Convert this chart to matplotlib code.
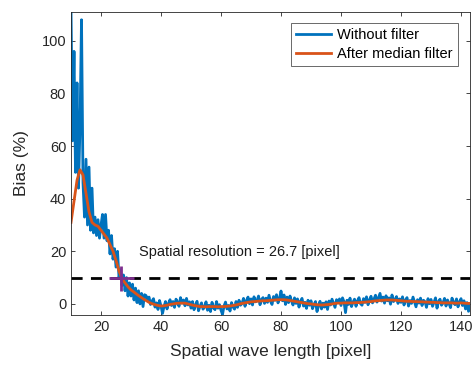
"""Bias vs spatial wave length, raw and median-filtered."""

import matplotlib
matplotlib.use("Agg")
import matplotlib.pyplot as plt
import numpy as np

plt.rcParams["font.family"] = ["Liberation Sans", "DejaVu Sans"]

# raw bias, wave length 10..143 step 0.5
wave_raw = np.arange(10.0, 143.01, 0.5)
bias_raw = [
    112, 62, 96, 50, 84, 44, 68, 108, 46, 33,
    55, 30, 52, 28, 44, 27, 33, 26, 32, 25,
    30, 34, 25, 34, 24, 28, 19, 26, 17, 21,
    14, 20, 10, 13, 7, 11, 5, 10, 3, 8,
    3, 7.5, 1.5, 6, 0.5, 5, 0, 4, -1, 3.5,
    3.2, 1.4, 2.6, -0.2, 1.1, 2.0, -1.2, 0.4, -2.1, 1.3,
    -0.8, -3.6, -1.0, 0.9, -1.9, 0.2, 1.6, -0.6, 0.9, -1.3,
    1.8, 0.7, -0.9, 2.4, 0.3, 1.5, -0.7, 2.1, -0.4, 0.8,
    -1.6, 0.9, -2.2, -0.4, 1.0, -2.6, -0.9, 0.4, -2.0, -1.2,
    0.8, -2.4, -0.5, -2.9, 0.6, -1.4, -2.2, 0.9, -1.6, -0.3,
    -2.4, -4.0, -0.8, 0.7, -1.9, -0.6, -2.7, 0.5, -1.1, -2.0,
    0.9, -1.3, 1.4, -0.5, 0.2, 2.1, -0.9, 1.3, 2.6, 0.1,
    1.9, -0.4, 2.7, 0.8, 1.2, 3.0, -0.3, 1.7, 2.4, 0.2,
    2.2, 0.6, 3.3, 1.0, -0.2, 2.8, 1.4, 3.5, 0.4, 2.1,
    4.9, 1.2, 3.4, -0.2, 2.6, 0.5, 3.0, 1.1, -0.4, 2.3,
    0.2, 1.9, -1.2, 1.0, 2.1, -0.8, 0.6, -1.7, 1.4, -0.5,
    1.2, -1.8, -0.2, 0.9, -2.9, -0.7, 1.0, -1.9, 0.3, -1.2,
    0.8, -2.1, 1.1, -0.4, 1.8, 0.2, -1.3, 1.6, 0.5, 1.9,
    -0.6, 2.3, 0.8, -3.3, 1.4, -0.2, 2.2, -1.0, 0.7, 1.8,
    -0.9, 1.2, 2.4, 0.1, -0.5, 2.0, 0.6, 2.7, -0.3, 1.5,
    2.9, 0.4, 1.8, 3.3, 0.7, 2.4, 4.0, 1.1, 2.6, 0.3,
    3.1, 1.2, 2.3, -0.1, 3.4, 0.9, 1.7, 2.8, 0.2, 1.9,
    0.6, 2.7, -0.4, 1.5, 2.4, -0.8, 1.3, 0.2, 2.6, 0.7,
    -1.1, 1.6, 0.3, 2.2, -0.6, 1.4, 0.8, -1.3, 2.0, 0.1,
    1.7, -0.9, 0.6, 2.3, -1.6, 0.9, 1.8, -0.5, 0.4, 2.1,
    -0.8, 1.5, 0.2, -1.4, 2.2, 0.6, -0.3, 1.9, -1.1, 0.8,
    2.0, -0.6, 1.2, -1.9, 0.5, -2.8, -0.6,
]

# median filtered, wave length 10..143 step 1
wave_med = np.arange(10, 144)
bias_med = [
    31, 39, 47, 51, 49, 42, 35, 31, 30, 29.5,
    28, 26.5, 25, 22.5, 20, 16.5, 12.5, 9.6, 8, 6.5,
    5.3, 4.5, 3.6, 2.8, 2, 1.3, 0.6, 0.1, -0.3, -0.6,
    -0.8, -0.7, -0.5, -0.2, 0, 0.2, 0.3, 0.3, 0.3, 0,
    -0.3, -0.6, -0.8, -1, -1, -1.1, -1, -1, -1, -1.1,
    -1, -1, -0.9, -0.8, -0.6, -0.4, -0.1, 0.2, 0.4, 0.6,
    0.8, 0.9, 1, 1.1, 1.2, 1.2, 1.3, 1.4, 1.5, 1.6,
    1.6, 1.6, 1.5, 1.3, 1.1, 0.9, 0.7, 0.5, 0.3, 0.1,
    0, -0.2, -0.3, -0.4, -0.4, -0.3, -0.2, 0, 0.2, 0.3,
    0.3, 0.4, 0.4, 0.4, 0.4, 0.5, 0.5, 0.6, 0.7, 0.8,
    0.9, 1.1, 1.2, 1.3, 1.4, 1.5, 1.5, 1.5, 1.4, 1.3,
    1.2, 1.1, 1, 1, 0.9, 0.9, 0.8, 0.8, 0.7, 0.7,
    0.6, 0.6, 0.5, 0.5, 0.4, 0.4, 0.4, 0.4, 0.3, 0.3,
    0.4, 0.3, 0.2, 0.2,
]

threshold = 10
resolution = 26.7

fig = plt.figure(figsize=(4.75, 3.71), dpi=100)
ax = fig.add_axes([0.1495, 0.151, 0.84, 0.817])

ax.plot(wave_raw, bias_raw, color="#0072BD", lw=2, label="Without filter")
ax.plot(wave_med, bias_med, color="#D95319", lw=2, label="After median filter")
ax.axhline(threshold, color="black", lw=2, ls=(0, (4, 3)))
ax.plot([resolution], [threshold], marker="+", color="#7E2F8E", ms=18, mew=2)
ax.text(32.7, 19.8, f"Spatial resolution = {resolution} [pixel]", fontsize=10.5,
        color="#1a1a1a", va="center", ha="left")

ax.set_xlim(10, 143)
ax.set_ylim(-4.2, 111)
ax.set_xticks(np.arange(20, 141, 20))
ax.set_yticks(np.arange(0, 101, 20))
ax.tick_params(direction="in", top=True, right=True, labelsize=10.5,
               colors="#262626", length=3, width=0.6)
for spine in ax.spines.values():
    spine.set_color("#262626")
    spine.set_linewidth(0.6)
ax.set_xlabel("Spatial wave length [pixel]", fontsize=12.5, color="#262626", labelpad=7)
ax.set_ylabel("Bias (%)", fontsize=12.5, color="#262626", labelpad=9)

leg = ax.legend(loc="upper right", bbox_to_anchor=(0.969, 0.962), borderaxespad=0,
                fancybox=False, fontsize=10.5, handlelength=2.4, labelspacing=0.3,
                borderpad=0.35, handletextpad=0.4)
leg.get_frame().set_edgecolor("#262626")
leg.get_frame().set_linewidth(0.6)

fig.savefig("out.png", dpi=100)
